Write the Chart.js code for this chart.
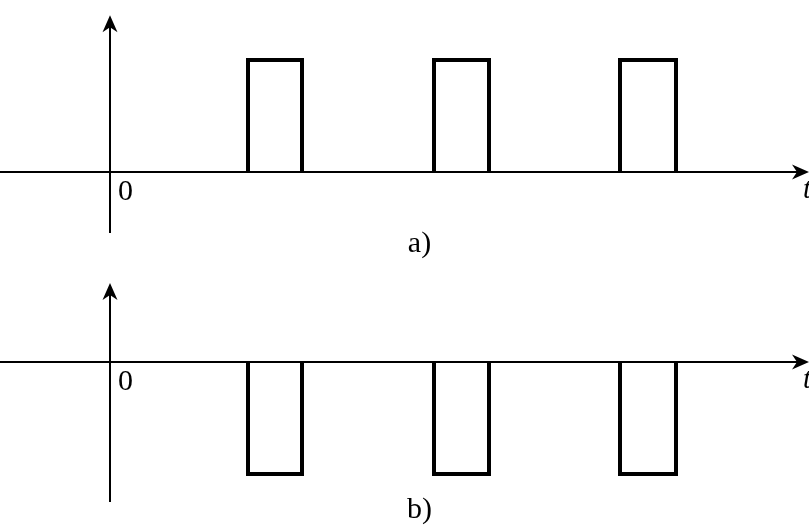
<!DOCTYPE html>
<html>
<head>
<meta charset="utf-8">
<script src="https://cdn.jsdelivr.net/npm/chart.js@4.4.1/dist/chart.umd.min.js"></script>
<style>
  html, body { margin: 0; padding: 0; background: #fff; }
  #pulseChart { display: block; }
</style>
</head>
<body>
<canvas id="pulseChart" width="809" height="525"></canvas>
<script>
// pulse edges (time units)
const pulseStart = [1.38, 3.24, 5.10];
const pulseEnd = [1.92, 3.79, 5.66];
const levelA = [1, 1, 1];
const levelB = [-1, -1, -1];
const timeRange = [-1.10, 6.99];
const vAxisA = [-0.545, 1.40];
const vAxisB = [-1.25, 0.705];
const panelLabels = ['a)', 'b)'];
const originLabel = '0';
const timeLabel = 't';

// each pulse: up, across, down, then a gap so the baseline stays thin
function pulsePoints(levels) {
  const pts = [];
  pulseStart.forEach((s, i) => {
    const e = pulseEnd[i];
    pts.push({x: s, y: 0}, {x: s, y: levels[i]}, {x: e, y: levels[i]}, {x: e, y: 0}, {x: e, y: null});
  });
  return pts;
}

function arrowHead(ctx, x, y, dir) {
  // stealth style head, tip at (x, y)
  ctx.save();
  ctx.translate(x, y);
  ctx.rotate(dir);
  ctx.beginPath();
  ctx.moveTo(0, 0);
  ctx.lineTo(-17, -7.5);
  ctx.lineTo(-12, 0);
  ctx.lineTo(-17, 7.5);
  ctx.closePath();
  ctx.fill();
  ctx.restore();
}

const axesPlugin = {
  id: 'axesPlugin',
  beforeDatasetsDraw(chart) {
    const ctx = chart.ctx;
    const xs = chart.scales.x;
    const panels = [
      {scale: chart.scales.yA, range: vAxisA, label: panelLabels[0], labelDy: 80},
      {scale: chart.scales.yB, range: vAxisB, label: panelLabels[1], labelDy: 156}
    ];
    const x0 = xs.getPixelForValue(0);
    const xL = xs.getPixelForValue(timeRange[0]);
    const xR = xs.getPixelForValue(timeRange[1]);
    ctx.save();
    ctx.strokeStyle = '#000';
    ctx.fillStyle = '#000';
    ctx.lineWidth = 2;
    panels.forEach(p => {
      const y0 = p.scale.getPixelForValue(0);
      const yBot = p.scale.getPixelForValue(p.range[0]);
      const yTop = p.scale.getPixelForValue(p.range[1]);
      ctx.beginPath();
      ctx.moveTo(xL, y0);
      ctx.lineTo(xR - 8, y0);
      ctx.moveTo(x0, yBot);
      ctx.lineTo(x0, yTop + 8);
      ctx.stroke();
      arrowHead(ctx, xR, y0, 0);
      arrowHead(ctx, x0, yTop, -Math.PI / 2);

      ctx.font = '30px "Liberation Serif", "Times New Roman", serif';
      ctx.textBaseline = 'alphabetic';
      ctx.textAlign = 'left';
      ctx.fillText(originLabel, x0 + 8, y0 + 28);
      ctx.textAlign = 'center';
      ctx.fillText(p.label, xs.getPixelForValue(3.095), y0 + p.labelDy);
      ctx.font = 'italic 29px "Liberation Serif", "Times New Roman", serif';
      ctx.textAlign = 'right';
      ctx.fillText(timeLabel, xR + 2, y0 + 26);
    });
    ctx.restore();
  }
};

const ctxPulse = document.getElementById('pulseChart').getContext('2d');

const pulseChart = new Chart(ctxPulse, {
  type: 'line',
  data: {
    datasets: [{
      label: 'a',
      data: pulsePoints(levelA),
      yAxisID: 'yA',
      borderColor: '#000',
      borderWidth: 4,
      pointRadius: 0,
      fill: false,
      spanGaps: false,
      tension: 0,
      borderJoinStyle: 'miter'
    }, {
      label: 'b',
      data: pulsePoints(levelB),
      yAxisID: 'yB',
      borderColor: '#000',
      borderWidth: 4,
      pointRadius: 0,
      fill: false,
      spanGaps: false,
      tension: 0,
      borderJoinStyle: 'miter'
    }]
  },
  options: {
    responsive: false,
    animation: false,
    devicePixelRatio: 1,
    layout: { padding: 0 },
    plugins: {
      legend: { display: false },
      tooltip: { enabled: false }
    },
    scales: {
      x: { type: 'linear', min: timeRange[0], max: timeRange[1], display: false },
      yA: { type: 'linear', min: -3.152, max: 1.536, display: false },
      yB: { type: 'linear', min: -1.455, max: 3.232, display: false }
    }
  },
  plugins: [axesPlugin]
});
</script>
</body>
</html>
